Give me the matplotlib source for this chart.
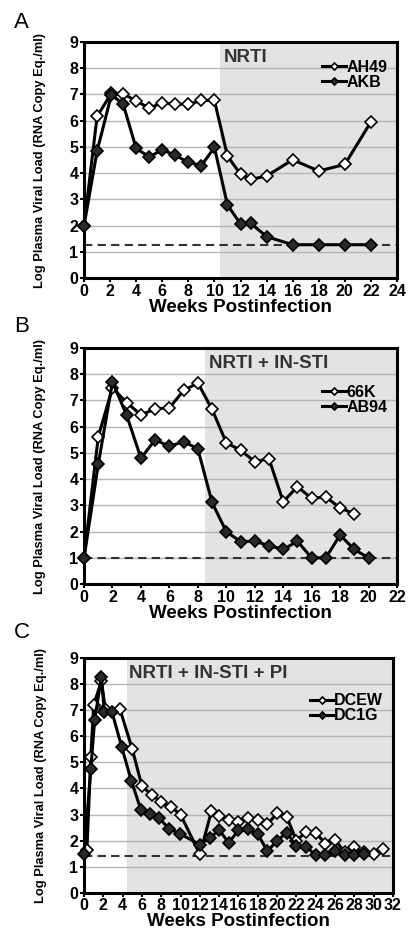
import matplotlib.pyplot as plt

plt.rcParams['font.family'] = ['Liberation Sans', 'DejaVu Sans']
plt.rcParams['font.weight'] = 'bold'
plt.rcParams['axes.labelweight'] = 'bold'

# panel A
a_open_x = [0, 1, 2.1, 3, 4, 5, 6, 7, 8, 9, 10, 11, 12, 12.8, 14, 16, 18, 20, 22]
a_open_y = [2.0, 6.16, 7.05, 7.03, 6.75, 6.48, 6.68, 6.63, 6.62, 6.77, 6.77, 4.65, 3.96, 3.76, 3.89, 4.51, 4.08, 4.33, 5.95]
a_fill_x = [0, 1, 2.1, 3, 4, 5, 6, 7, 8, 9, 10, 11, 12, 12.8, 14, 16, 18, 20, 22]
a_fill_y = [2.0, 4.84, 6.99, 6.63, 4.94, 4.62, 4.89, 4.68, 4.41, 4.29, 4.98, 2.78, 2.07, 2.08, 1.58, 1.27, 1.27, 1.27, 1.27]

# panel B
b_open_x = [0, 1, 2, 3, 4, 5, 6, 7, 8, 9, 10, 11, 12, 13, 14, 15, 16, 17, 18, 19]
b_open_y = [1.0, 5.62, 7.48, 6.92, 6.45, 6.68, 6.72, 7.38, 7.67, 6.66, 5.39, 5.10, 4.67, 4.78, 3.14, 3.71, 3.27, 3.32, 2.90, 2.68]
b_fill_x = [0, 1, 2, 3, 4, 5, 6, 7, 8, 9, 10, 11, 12, 13, 14, 15, 16, 17, 18, 19, 20]
b_fill_y = [1.0, 4.57, 7.71, 6.43, 4.80, 5.50, 5.25, 5.43, 5.16, 3.11, 2.0, 1.62, 1.63, 1.47, 1.32, 1.63, 1.0, 1.0, 1.87, 1.32, 1.0]

# panel C
c_open_x = [0.3, 0.7, 1.0, 1.8, 2.2, 3.7, 5, 6, 7, 8, 9, 10, 12, 13.2, 14, 15, 16, 17, 18, 19, 20, 21, 22, 23, 24, 25, 26, 27, 28, 29, 30, 31]
c_open_y = [1.66, 5.2, 7.2, 8.1, 7.05, 7.05, 5.5, 4.08, 3.76, 3.48, 3.29, 3.0, 1.47, 3.13, 2.95, 2.78, 2.73, 2.85, 2.78, 2.63, 3.04, 2.91, 2.0, 2.34, 2.30, 1.89, 2.04, 1.55, 1.74, 1.55, 1.48, 1.68]
c_fill_x = [0, 0.7, 1.1, 1.8, 2.1, 2.9, 3.9, 4.9, 5.9, 6.8, 7.8, 8.8, 9.9, 12, 13, 14, 15, 16, 17, 18, 19, 20, 21, 22, 23, 24, 25, 26, 27, 28, 29]
c_fill_y = [1.48, 4.73, 6.63, 8.26, 6.92, 6.92, 5.59, 4.29, 3.17, 3.01, 2.85, 2.46, 2.27, 1.85, 2.1, 2.4, 1.92, 2.4, 2.43, 2.25, 1.6, 1.99, 2.31, 1.79, 1.77, 1.45, 1.45, 1.6, 1.45, 1.45, 1.48]

panels = [
    dict(letter='A', ox=a_open_x, oy=a_open_y, fx=a_fill_x, fy=a_fill_y,
         names=['AH49', 'AKB'], xmax=24, shade=10.4, limit=1.26,
         treat='NRTI', tx=10.7, rect=[0.206, 0.702, 0.767, 0.253], leg_y=0.965, ly=0.976),
    dict(letter='B', ox=b_open_x, oy=b_open_y, fx=b_fill_x, fy=b_fill_y,
         names=['66K', 'AB94'], xmax=22, shade=8.5, limit=1.0,
         treat='NRTI + IN-STI', tx=8.8, rect=[0.206, 0.374, 0.767, 0.253], leg_y=0.885, ly=0.65),
    dict(letter='C', ox=c_open_x, oy=c_open_y, fx=c_fill_x, fy=c_fill_y,
         names=['DCEW', 'DC1G'], xmax=32, shade=4.4, limit=1.41,
         treat='NRTI + IN-STI + PI', tx=4.65, rect=[0.206, 0.043, 0.757, 0.252], leg_y=0.89, ly=0.322),
]

fig = plt.figure(figsize=(4.08, 9.33), dpi=100)

for p in panels:
    ax = fig.add_axes(p['rect'])
    ax.set_axisbelow(True)
    ax.axvspan(p['shade'], p['xmax'], color='#e3e3e3', lw=0, zorder=0.2)
    ax.yaxis.grid(True, color='#b5b5b5', lw=1.0)
    ax.axhline(p['limit'], color='#333333', lw=1.5, ls=(0, (4, 2.5)), zorder=1.5)
    ax.plot(p['ox'], p['oy'], color='black', lw=2.2, marker='D', ms=6, mfc='white',
            mec='black', mew=1.2, label=p['names'][0], zorder=3, clip_on=False)
    ax.plot(p['fx'], p['fy'], color='black', lw=2.2, marker='D', ms=6, mfc='#2a2a2a',
            mec='black', mew=1.2, label=p['names'][1], zorder=4, clip_on=False)
    ax.set_xlim(0, p['xmax'])
    ax.set_ylim(0, 9)
    ax.set_xticks(range(0, p['xmax'] + 1, 2))
    ax.set_yticks(range(0, 10))
    ax.tick_params(labelsize=11.5, length=3, width=1.5, pad=1)
    for lbl in ax.get_xticklabels() + ax.get_yticklabels():
        lbl.set_fontweight('bold')
    for s in ax.spines.values():
        s.set_linewidth(2.2)
    ax.set_xlabel('Weeks Postinfection', fontsize=13.5, fontweight='bold', labelpad=0)
    ax.set_ylabel('Log Plasma Viral Load (RNA Copy Eq./ml)', fontsize=9.3, fontweight='bold')
    ax.yaxis.set_label_coords(-0.12, 0.5)
    ax.text(p['tx'], 8.4, p['treat'], fontsize=13.5, fontweight='bold', color='#333333', va='center')
    ax.legend(loc='upper right', bbox_to_anchor=(1.0, p['leg_y']), frameon=False,
              prop={'size': 11.5, 'weight': 'bold'}, labelspacing=0.0, handlelength=1.5,
              handletextpad=0.0, markerscale=0.6, borderaxespad=0.2)
    fig.text(0.035, p['ly'], p['letter'], fontsize=16, fontweight='normal', va='center')

plt.savefig('out.png', dpi=100)
